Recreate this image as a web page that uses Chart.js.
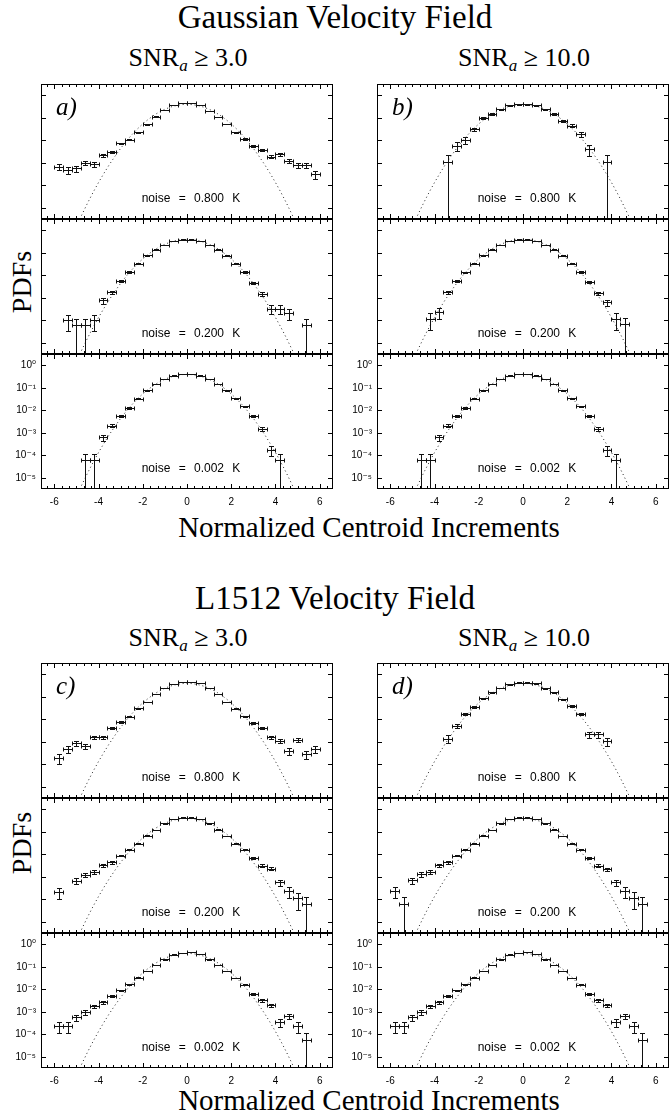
<!DOCTYPE html>
<html>
<head>
<meta charset="utf-8">
<script src="https://cdn.jsdelivr.net/npm/chart.js@4.4.0/dist/chart.umd.min.js"></script>
<style>
  body { margin: 0; background: #fff; }
  #fig { position: relative; width: 670px; height: 1119px; overflow: hidden; background: #fff; }
  #fig canvas { position: absolute; }
  .txt { position: absolute; color: #000; white-space: nowrap; transform: translate(-50%, -50%);
         font-family: 'Liberation Serif', 'Times New Roman', serif; line-height: 1; }
  .title { font-size: 33px; }
  .snr { font-size: 26px; }
  .snr sub { font-size: 17px; font-style: italic; vertical-align: -5px; line-height: 0; }
  .xlab { font-size: 29px; font-family: 'Liberation Serif', 'Times New Roman', serif; }
  .ylab { font-size: 28px; transform: translate(-50%, -50%) rotate(-90deg); }
  .letter { position: absolute; font-family: 'Liberation Serif', serif; font-style: italic; font-size: 25px; line-height: 1; }
  .noise { position: absolute; font-family: 'Liberation Sans', Arial, sans-serif; font-size: 12px; word-spacing: 5px;
           transform: translate(-50%, -50%); white-space: nowrap; line-height: 1; }
</style>
</head>
<body>
<div id="fig">
  <div class="txt title" style="left:335px;top:17px">Gaussian Velocity Field</div>
  <div class="txt snr" style="left:188px;top:58px">SNR<sub>a</sub> &ge; 3.0</div>
  <div class="txt snr" style="left:524px;top:58px">SNR<sub>a</sub> &ge; 10.0</div>
  <div class="txt ylab" style="left:22px;top:282px">PDFs</div>
  <div class="txt xlab" style="left:369px;top:527px">Normalized Centroid Increments</div>

  <div class="txt title" style="left:335px;top:598px">L1512 Velocity Field</div>
  <div class="txt snr" style="left:188px;top:638px">SNR<sub>a</sub> &ge; 3.0</div>
  <div class="txt snr" style="left:524px;top:638px">SNR<sub>a</sub> &ge; 10.0</div>
  <div class="txt ylab" style="left:22px;top:843px">PDFs</div>
  <div class="txt xlab" style="left:369px;top:1100px">Normalized Centroid Increments</div>
</div>
<script>
// bin centres of the normalized centroid increments
const binCenters = [-5.8,-5.4,-5.0,-4.6,-4.2,-3.8,-3.4,-3.0,-2.6,-2.2,-1.8,-1.4,-1.0,-0.6,-0.2,
                    0.2,0.6,1.0,1.4,1.8,2.2,2.6,3.0,3.4,3.8,4.2,4.6,5.0,5.4,5.8];
const binHalfWidth = 0.2;

// unit gaussian reference curve (dotted)
const gaussX = [-5.0,-4.75,-4.5,-4.25,-4.0,-3.75,-3.5,-3.25,-3.0,-2.75,-2.5,-2.25,-2.0,-1.75,-1.5,-1.25,-1.0,-0.75,-0.5,-0.25,
                0,0.25,0.5,0.75,1.0,1.25,1.5,1.75,2.0,2.25,2.5,2.75,3.0,3.25,3.5,3.75,4.0,4.25,4.5,4.75,5.0];
const gaussY = [1.5e-6,5.0e-6,1.6e-5,4.8e-5,1.34e-4,3.5e-4,8.7e-4,2.0e-3,4.4e-3,9.1e-3,0.0175,0.0317,0.054,0.086,0.13,0.183,0.242,0.301,0.352,0.387,
                0.399,0.387,0.352,0.301,0.242,0.183,0.13,0.086,0.054,0.0317,0.0175,9.1e-3,4.4e-3,2.0e-3,8.7e-4,3.5e-4,1.34e-4,4.8e-5,1.6e-5,5.0e-6,1.5e-6];

// PDFs (y) and relative errors (r); null = empty bin
const gaussTop3Y = [6.8e-4,4.8e-4,5.7e-4,1.0e-3,8.7e-4,2.2e-3,3.1e-3,7.3e-3,0.0107,0.023,0.051,0.114,0.23,0.36,0.44,
                    0.44,0.36,0.20,0.107,0.054,0.023,0.0114,0.0057,0.0037,0.0019,0.0024,0.0012,7.8e-4,7.8e-4,3.1e-4];
const gaussTop3R = [0.27,0.32,0.3,0.22,0.24,0.15,0.13,0.08,0.07,0.047,0.031,0.021,0.015,0.012,0.011,
                    0.011,0.012,0.016,0.022,0.03,0.047,0.066,0.094,0.12,0.16,0.14,0.2,0.25,0.25,0.4];
const gaussMid3Y = [null,1.07e-4,6e-5,6e-5,1.07e-4,7.8e-4,1.75e-3,5.4e-3,0.014,0.033,0.078,0.14,0.23,0.34,0.39,
                    0.39,0.34,0.23,0.14,0.075,0.033,0.014,4.7e-3,1.55e-3,3.3e-4,3.3e-4,2.1e-4,null,6e-5,null];
const gaussMid3R = [null,0.7,1,1,0.7,0.28,0.19,0.105,0.065,0.043,0.028,0.021,0.016,0.013,0.012,
                    0.012,0.013,0.016,0.021,0.028,0.043,0.065,0.113,0.2,0.43,0.43,0.53,null,1,null];
const gaussLowY  = [null,null,null,6e-5,6e-5,6.3e-4,2.1e-3,5.8e-3,0.0127,0.033,0.077,0.153,0.255,0.35,0.41,
                    0.41,0.35,0.255,0.148,0.077,0.035,0.015,5.4e-3,1.5e-3,1.8e-4,6e-5,null,null,null,null];
const gaussLowR  = [null,null,null,1,1,0.31,0.17,0.1,0.069,0.043,0.028,0.02,0.015,0.013,0.012,
                    0.012,0.013,0.015,0.02,0.028,0.041,0.063,0.105,0.2,0.5,1,null,null,null,null];
const gaussTop10Y = [null,null,null,null,null,null,1.1e-3,5.8e-3,0.0104,0.031,0.096,0.149,0.24,0.37,0.41,
                     0.41,0.37,0.24,0.149,0.075,0.045,0.019,4e-3,null,1.1e-3,null,null,null,null,null];
const gaussTop10R = [null,null,null,null,null,null,1,0.44,0.33,0.19,0.11,0.086,0.068,0.055,0.052,
                     0.052,0.055,0.068,0.086,0.12,0.16,0.24,0.52,null,1,null,null,null,null,null];
const gaussMid10Y = [null,null,null,null,1.2e-4,2.3e-4,1.8e-3,5.6e-3,0.0135,0.033,0.078,0.14,0.23,0.34,0.39,
                     0.39,0.34,0.23,0.14,0.075,0.033,0.014,5.2e-3,1.6e-3,6.5e-4,1.2e-4,6.6e-5,null,null,null];
const gaussMid10R = [null,null,null,null,0.7,0.5,0.18,0.1,0.067,0.043,0.028,0.021,0.016,0.013,0.012,
                     0.012,0.013,0.016,0.021,0.028,0.043,0.065,0.107,0.19,0.3,0.7,1,null,null,null];

const l1512Top3Y = [2.0e-4,4.7e-4,8.5e-4,6.5e-4,1.6e-3,1.6e-3,4e-3,7.8e-3,0.013,0.031,0.06,0.133,0.25,0.36,0.44,
                    0.44,0.40,0.24,0.133,0.06,0.03,0.014,7.1e-3,4e-3,1.6e-3,1.1e-3,3.9e-4,1.2e-3,2.9e-4,4.8e-4];
const l1512Top3R = [0.5,0.33,0.24,0.28,0.18,0.18,0.11,0.08,0.062,0.04,0.029,0.019,0.014,0.012,0.011,
                    0.011,0.011,0.014,0.019,0.029,0.041,0.06,0.084,0.11,0.18,0.21,0.36,0.2,0.42,0.32];
const l1512Mid3Y = [2.2e-4,null,6.8e-4,1.26e-3,1.65e-3,3.3e-3,4.4e-3,8.8e-3,0.016,0.03,0.067,0.12,0.237,0.38,0.43,
                    0.43,0.38,0.237,0.125,0.065,0.03,0.016,6.9e-3,3.2e-3,2.3e-3,5.7e-4,2.4e-4,1.15e-4,6.2e-5,null];
const l1512Mid3R = [0.52,null,0.3,0.22,0.19,0.135,0.117,0.083,0.061,0.045,0.03,0.022,0.016,0.013,0.012,
                    0.012,0.013,0.016,0.022,0.03,0.045,0.061,0.093,0.137,0.16,0.32,0.5,0.72,1,null];
const l1512LowY  = [2.3e-4,2.3e-4,5.7e-4,9.8e-4,1.8e-3,2.7e-3,5e-3,9e-3,0.017,0.033,0.065,0.12,0.215,0.35,0.43,
                    0.44,0.37,0.215,0.12,0.065,0.032,0.016,6.4e-3,3.3e-3,2e-3,3.6e-4,6.5e-4,2.3e-4,5.6e-5,null];
const l1512LowR  = [0.49,0.49,0.31,0.24,0.18,0.14,0.106,0.079,0.057,0.041,0.029,0.022,0.016,0.013,0.011,
                    0.011,0.012,0.016,0.022,0.029,0.042,0.059,0.094,0.13,0.17,0.39,0.29,0.49,1,null];
const l1512Top10Y = [null,null,null,null,null,null,1.4e-3,5e-3,0.017,0.036,0.085,0.16,0.25,0.36,0.43,
                     0.43,0.40,0.24,0.16,0.077,0.039,0.017,2.2e-3,2.2e-3,1.1e-3,null,null,null,null,null];
const l1512Top10R = [null,null,null,null,null,null,0.38,0.2,0.11,0.075,0.05,0.035,0.028,0.024,0.022,
                     0.022,0.022,0.029,0.035,0.05,0.07,0.11,0.3,0.3,0.42,null,null,null,null,null];
const l1512Mid10Y = [2.4e-4,6.3e-5,7e-4,1.3e-3,1.7e-3,3.3e-3,4.4e-3,8.8e-3,0.016,0.03,0.067,0.12,0.237,0.38,0.43,
                     0.43,0.38,0.237,0.125,0.065,0.03,0.016,6.9e-3,3.2e-3,2.2e-3,5.7e-4,2.4e-4,1.2e-4,6.3e-5,null];
const l1512Mid10R = [0.5,1,0.29,0.21,0.19,0.135,0.117,0.083,0.061,0.045,0.03,0.022,0.016,0.013,0.012,
                     0.012,0.013,0.016,0.022,0.03,0.045,0.061,0.093,0.137,0.165,0.32,0.5,0.7,1,null];

const xTicks = [-6,-4,-2,0,2,4,6];
const yTicks = [1e0,1e-1,1e-2,1e-3,1e-4,1e-5];
const noiseLevels = ['0.800','0.200','0.002'];

const xMin = -6.6, xMax = 6.6, yMin = 3.2e-6, yMax = 3.2;

// layout
const panelW = 292, panelH = 135;
const colLeft = [41, 377];
const groupTop = [84, 663];
const axisW = 41, xAxisH = 22;

const panels = [
  {group:0, col:0, row:0, y:gaussTop3Y,  r:gaussTop3R,  letter:'a)'},
  {group:0, col:0, row:1, y:gaussMid3Y,  r:gaussMid3R},
  {group:0, col:0, row:2, y:gaussLowY,   r:gaussLowR},
  {group:0, col:1, row:0, y:gaussTop10Y, r:gaussTop10R, letter:'b)'},
  {group:0, col:1, row:1, y:gaussMid10Y, r:gaussMid10R},
  {group:0, col:1, row:2, y:gaussLowY,   r:gaussLowR},
  {group:1, col:0, row:0, y:l1512Top3Y,  r:l1512Top3R,  letter:'c)'},
  {group:1, col:0, row:1, y:l1512Mid3Y,  r:l1512Mid3R},
  {group:1, col:0, row:2, y:l1512LowY,   r:l1512LowR},
  {group:1, col:1, row:0, y:l1512Top10Y, r:l1512Top10R, letter:'d)'},
  {group:1, col:1, row:1, y:l1512Mid10Y, r:l1512Mid10R},
  {group:1, col:1, row:2, y:l1512LowY,   r:l1512LowR}
];

const sup = {'-':'\u207B','0':'\u2070','1':'\u00B9','2':'\u00B2','3':'\u00B3','4':'\u2074','5':'\u2075'};

// error bars: horizontal = bin width, vertical = relative error (to axis when r >= 1)
const errorBars = {
  id: 'errorBars',
  afterDatasetsDraw(chart) {
    const {ctx, chartArea: a, scales: {x, y}} = chart;
    ctx.save();
    ctx.beginPath();
    ctx.rect(a.left, a.top, a.width, a.height);
    ctx.clip();
    ctx.strokeStyle = '#111';
    ctx.lineWidth = 1;
    ctx.beginPath();
    chart.data.datasets[0].data.forEach(d => {
      const px = Math.round(x.getPixelForValue(d.x)) + 0.5;
      const py = Math.round(y.getPixelForValue(d.y)) + 0.5;
      const x1 = Math.round(x.getPixelForValue(d.x - binHalfWidth)) + 0.5;
      const x2 = Math.round(x.getPixelForValue(d.x + binHalfWidth)) + 0.5;
      const yTop = Math.round(y.getPixelForValue(d.y * (1 + d.r))) + 0.5;
      const yBot = d.r >= 1 ? a.bottom : Math.round(y.getPixelForValue(d.y * (1 - d.r))) + 0.5;
      ctx.moveTo(x1, py); ctx.lineTo(x2, py);
      ctx.moveTo(x1, py - 2); ctx.lineTo(x1, py + 2);
      ctx.moveTo(x2, py - 2); ctx.lineTo(x2, py + 2);
      ctx.moveTo(px, yTop); ctx.lineTo(px, yBot);
      ctx.moveTo(px - 2.5, yTop); ctx.lineTo(px + 2.5, yTop);
      if (d.r < 1) { ctx.moveTo(px - 2.5, yBot); ctx.lineTo(px + 2.5, yBot); }
    });
    ctx.stroke();
    ctx.restore();
  }
};

// box and inward ticks on all four sides
const frameTicks = {
  id: 'frameTicks',
  afterDraw(chart) {
    const {ctx, chartArea: a, scales: {x, y}} = chart;
    ctx.save();
    ctx.strokeStyle = '#000';
    ctx.lineWidth = 1;
    ctx.strokeRect(a.left + 0.5, a.top + 0.5, a.width - 1, a.height - 1);
    ctx.beginPath();
    for (let i = 0; i < xTicks.length - 1; i++) {
      for (let k = 0; k <= 6; k++) {
        const v = xTicks[i] + (xTicks[i + 1] - xTicks[i]) * k / 6;
        const len = (k === 0 || k === 6) ? 5 : 3;
        const px = Math.round(x.getPixelForValue(v)) + 0.5;
        ctx.moveTo(px, a.bottom); ctx.lineTo(px, a.bottom - len);
        ctx.moveTo(px, a.top); ctx.lineTo(px, a.top + len);
      }
    }
    // minor ticks beyond the outer labelled values
    [xTicks[0] - 1/3, xTicks[xTicks.length - 1] + 1/3].forEach(v => {
      const px = Math.round(x.getPixelForValue(v)) + 0.5;
      ctx.moveTo(px, a.bottom); ctx.lineTo(px, a.bottom - 3);
      ctx.moveTo(px, a.top); ctx.lineTo(px, a.top + 3);
    });
    yTicks.forEach(v => {
      const py = Math.round(y.getPixelForValue(v)) + 0.5;
      ctx.moveTo(a.left, py); ctx.lineTo(a.left + 5, py);
      ctx.moveTo(a.right, py); ctx.lineTo(a.right - 5, py);
    });
    ctx.stroke();
    ctx.restore();
  }
};

Chart.defaults.font.family = "'Liberation Sans', 'DejaVu Sans', Arial, sans-serif";
Chart.defaults.font.size = 10;
Chart.defaults.color = '#000';

const fig = document.getElementById('fig');

panels.forEach(p => {
  const L = colLeft[p.col];
  const T = groupTop[p.group] + p.row * panelH;
  const bottomRow = p.row === 2;
  const cw = panelW + axisW + 1;
  const ch = panelH + 2 + (bottomRow ? xAxisH : 0);
  const cv = document.createElement('canvas');
  cv.width = cw; cv.height = ch;
  cv.style.left = (L - axisW) + 'px';
  cv.style.top = (T - 1) + 'px';
  cv.style.width = cw + 'px';
  cv.style.height = ch + 'px';
  fig.appendChild(cv);

  const pts = binCenters.map((x, i) => ({x: x, y: p.y[i], r: p.r[i]})).filter(d => d.y != null);
  const curve = gaussX.map((x, i) => ({x: x, y: gaussY[i]}));

  new Chart(cv, {
    type: 'scatter',
    data: {
      datasets: [
        {data: pts, pointRadius: 0, showLine: false},
        {data: curve, showLine: true, pointRadius: 0, borderColor: '#222', borderWidth: 1, borderDash: [1, 3], tension: 0}
      ]
    },
    options: {
      responsive: false,
      animation: false,
      devicePixelRatio: 1,
      layout: {padding: {top: 1, right: 1, bottom: 1, left: 0}},
      plugins: {legend: {display: false}, tooltip: {enabled: false}},
      scales: {
        x: {
          type: 'linear', min: xMin, max: xMax,
          afterBuildTicks: s => { s.ticks = xTicks.map(v => ({value: v})); },
          afterFit: s => { s.height = bottomRow ? xAxisH : 0; s.paddingLeft = 0; s.paddingRight = 0; },
          grid: {display: false, drawTicks: false},
          border: {display: false},
          ticks: {display: bottomRow, padding: 7, maxRotation: 0, autoSkip: false, color: '#000'}
        },
        y: {
          type: 'logarithmic', min: yMin, max: yMax,
          afterBuildTicks: s => { s.ticks = yTicks.map(v => ({value: v})); },
          afterFit: s => { s.width = axisW; s.paddingTop = 0; s.paddingBottom = 0; },
          grid: {display: false, drawTicks: false},
          border: {display: false},
          ticks: {
            display: bottomRow, padding: 5, autoSkip: false, color: '#000',
            callback: v => '10' + String(Math.round(Math.log10(v))).split('').map(c => sup[c]).join('')
          }
        }
      }
    },
    plugins: [errorBars, frameTicks]
  });

  if (p.letter) {
    const el = document.createElement('div');
    el.className = 'letter';
    el.textContent = p.letter;
    el.style.left = (L + 15) + 'px';
    el.style.top = (T + 10) + 'px';
    fig.appendChild(el);
  }
  const nz = document.createElement('div');
  nz.className = 'noise';
  nz.textContent = 'noise = ' + noiseLevels[p.row] + ' K';
  nz.style.left = (L + panelW / 2 + 4) + 'px';
  nz.style.top = (T + 114) + 'px';
  fig.appendChild(nz);
});
</script>
</body>
</html>
